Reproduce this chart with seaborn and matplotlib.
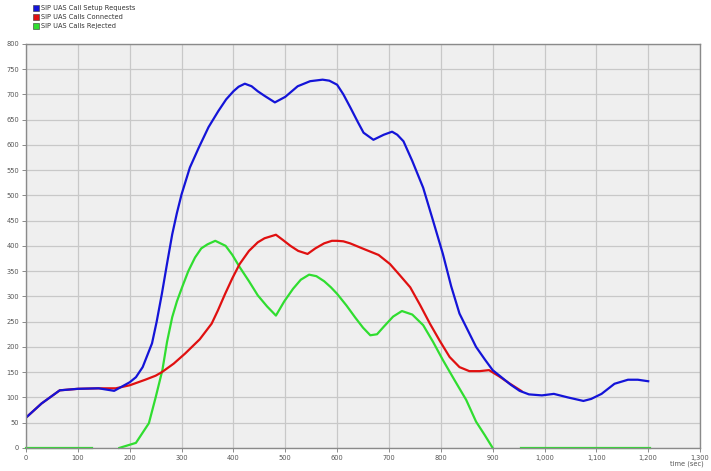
import seaborn as sns
import matplotlib.pyplot as plt
import pandas as pd
from matplotlib.lines import Line2D
from matplotlib.ticker import FuncFormatter, MultipleLocator

# Datos (tiempo en seg, valor)
setup_time = [0, 30, 65, 100, 140, 170, 200, 212, 225, 243, 252, 262, 272, 282, 291, 300,
              316, 333, 352, 371, 386, 400, 410, 422, 435, 447, 460, 480, 500, 524, 548,
              572, 585, 600, 612, 626, 640, 651, 670, 690, 706, 716, 728, 745, 766, 785,
              804, 820, 836, 868, 885, 900, 935, 952, 970, 995, 1018, 1045, 1075, 1090,
              1110, 1135, 1161, 1180, 1200]
setup_vals = [60, 88, 114, 117, 118, 113, 130, 140, 160, 207, 250, 305, 365, 423, 465, 502,
              555, 594, 635, 667, 690, 706, 715, 721, 716, 706, 697, 684, 695, 716, 726,
              729, 727, 719, 700, 673, 645, 624, 610, 620, 626, 620, 607, 568, 515, 450,
              384, 320, 266, 200, 175, 154, 125, 113, 106, 104, 107, 100, 93, 97,
              107, 127, 135, 135, 132]

conn_time = [0, 30, 65, 100, 140, 173, 200, 230, 250, 262, 285, 307, 320, 335, 358, 370,
             384, 398, 412, 430, 447, 460, 482, 495, 510, 525, 543, 558, 575, 590, 600,
             612, 625, 651, 680, 702, 720, 741, 760, 779, 798, 817, 836, 855, 875, 893,
             912, 932, 955]
conn_vals = [60, 88, 114, 117, 118, 118, 124, 135, 143, 150, 167, 187, 200, 215, 246, 272,
             305, 336, 364, 390, 407, 415, 422, 412, 400, 390, 384, 395, 405, 410, 410,
             409, 405, 394, 382, 364, 343, 318, 283, 246, 212, 180, 160, 152, 152, 154,
             142, 128, 113]

rej_time = [0, 128,
            180, 212, 237, 250, 263, 272, 282, 291, 301, 313, 326, 338, 350, 365, 385, 398,
            412, 430, 447, 465, 482, 498, 515, 530, 546, 560, 575, 588, 600, 618, 635, 650,
            664, 677, 690, 708, 725, 745, 766, 785, 804, 826, 849, 868, 885, 900,
            954, 1203]
rej_vals = [0, 0,
            0, 10, 49, 100, 154, 210, 259, 290, 318, 350, 377, 395, 403, 410, 400, 382,
            358, 330, 302, 280, 262, 290, 315, 333, 343, 340, 330, 318, 305, 282, 258, 238,
            223, 225, 240, 260, 271, 264, 243, 210, 174, 135, 95, 52, 25, 0,
            0, 0]
rej_segment = [0, 0] + [1] * 46 + [2, 2]

labels = ["SIP UAS Call Setup Requests", "SIP UAS Calls Connected", "SIP UAS Calls Rejected"]
colors = ["#1414d8", "#e01010", "#30dd30"]

setup_df = pd.DataFrame({"time": setup_time, "value": setup_vals})
conn_df = pd.DataFrame({"time": conn_time, "value": conn_vals})
rej_df = pd.DataFrame({"time": rej_time, "value": rej_vals, "seg": rej_segment})

fig = plt.figure(figsize=(7.11, 4.71), dpi=100)
ax = fig.add_axes([0.0366, 0.049, 0.948, 0.858])
ax.set_facecolor("#efefef")

sns.lineplot(data=rej_df, x="time", y="value", units="seg", estimator=None,
             color=colors[2], linewidth=1.6, ax=ax, clip_on=False)
sns.lineplot(data=conn_df, x="time", y="value", color=colors[1], linewidth=1.6, ax=ax)
sns.lineplot(data=setup_df, x="time", y="value", color=colors[0], linewidth=1.6, ax=ax)

ax.set_xlim(0, 1300)
ax.set_ylim(0, 800)
ax.xaxis.set_major_locator(MultipleLocator(100))
ax.yaxis.set_major_locator(MultipleLocator(50))
ax.xaxis.set_major_formatter(FuncFormatter(lambda v, p: f"{v:,.0f}"))
ax.grid(True, color="#c8c8c8", linewidth=0.9)
ax.set_axisbelow(True)
ax.set_xlabel("")
ax.set_ylabel("")
ax.tick_params(labelsize=4.8, labelcolor="#555555", color="#777777", length=3, width=0.6, pad=2)
for s in ax.spines.values():
    s.set_color("#8a8a8a")
    s.set_linewidth(1.0)

fig.text(0.99, 0.008, "time (sec)", ha="right", va="bottom", fontsize=4.8, color="#555555")

handles = [Line2D([], [], linestyle="none", marker="s", markersize=4,
                  markerfacecolor=c, markeredgecolor="#333333", markeredgewidth=0.4)
           for c in colors]
fig.legend(handles, labels, loc="upper left", bbox_to_anchor=(0.040, 1.0), frameon=False,
           fontsize=4.8, handlelength=0.8, handletextpad=0.3, labelspacing=0.45,
           borderaxespad=0.4, labelcolor="#333333")

fig.savefig("out.png", dpi=100, facecolor="white")
